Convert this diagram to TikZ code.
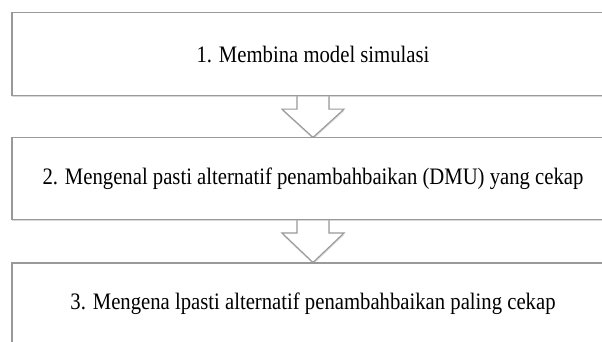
\documentclass[tikz,border=0pt]{standalone}
\usepackage{fontspec}
\setmainfont{Liberation Serif}
\usepackage{graphicx}
\usetikzlibrary{calc,shadows,backgrounds}

\tikzset{
  stepbox/.style={draw=gray!80, line width=1.1pt, fill=white,
    minimum width=602pt, inner sep=0pt,
    drop shadow={shadow xshift=0.3pt, shadow yshift=-1.8pt, fill=gray!60, opacity=.5},
    font=\fontsize{20.7}{24}\selectfont},
  blockarrow/.style={draw=gray!80, line width=1.1pt, fill=white,
    line join=miter,
    drop shadow={shadow xshift=0.3pt, shadow yshift=-1.8pt, fill=gray!60, opacity=.5}}
}
\newcommand{\boxtext}[1]{\scalebox{1}[1.14]{#1}}

\begin{document}
\begin{tikzpicture}[x=1pt, y=-1pt]
  \useasboundingbox (0,0) rectangle (602,342);
  \clip (0,0) rectangle (602,342);

  % Steps
  \node [stepbox, minimum height=83pt] at (313,54.1) (step1)
        {\boxtext{1. Membina model simulasi}};
  \node [stepbox, minimum height=81.5pt] at (313,178.7) (step2)
        {\boxtext{2. Mengenal pasti alternatif penambahbaikan (DMU) yang cekap}};
  \node [stepbox, minimum height=82pt] at (313,304) (step3)
        {\boxtext{3. Mengena lpasti alternatif penambahbaikan paling cekap}};

  % Arrows (behind the boxes)
  \begin{scope}[on background layer]
    \fill [white] (0,0) rectangle (602,342);
    \draw [blockarrow] ($(step1.south)+(-16,-2)$) -- ++(0,15) -- ++(-15,0)
          -- (step2.north) -- ($(step1.south)+(31,13)$) -- ++(-15,0)
          -- ($(step1.south)+(16,-2)$);
    \draw [blockarrow] ($(step2.south)+(-16,-2)$) -- ++(0,15) -- ++(-15,0)
          -- (step3.north) -- ($(step2.south)+(31,13)$) -- ++(-15,0)
          -- ($(step2.south)+(16,-2)$);
  \end{scope}
\end{tikzpicture}
\end{document}
